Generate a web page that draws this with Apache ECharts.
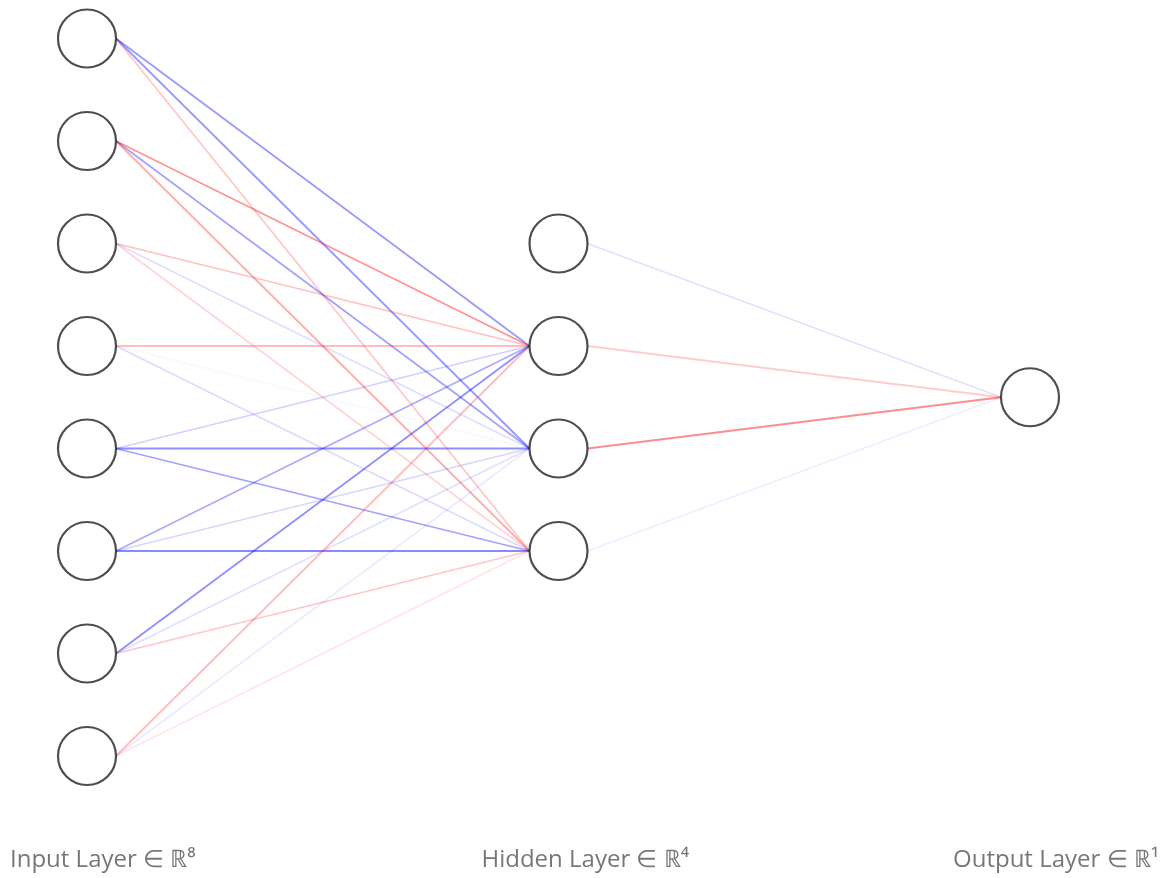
<!DOCTYPE html>
<html>
<head>
<meta charset="utf-8">
<script src="https://cdn.jsdelivr.net/npm/echarts@6/dist/echarts.min.js"></script>
<style>html,body{margin:0;padding:0;background:#fff}#c{width:1172px;height:878px}</style>
</head>
<body>
<div id="c"></div>
<script>
// ---- data ----
const layerSizes = [8, 4, 1];
const layerNames = ['Input Layer', 'Hidden Layer', 'Output Layer'];
const layerDims = ['⁸', '⁴', '¹'];
// weights input(row) -> hidden(col); positive = red, negative = blue, magnitude = opacity
const weightsInputHidden = [
  [0, -0.40, -0.40,  0.22],
  [0,  0.42, -0.36,  0.32],
  [0,  0.24, -0.13,  0.16],
  [0,  0.26, -0.03, -0.14],
  [0, -0.18, -0.44, -0.36],
  [0, -0.33, -0.16, -0.46],
  [0, -0.44, -0.12,  0.22],
  [0,  0.26, -0.08,  0.10]
];
const weightsHiddenOutput = [-0.12, 0.20, 0.45, -0.07];

// ---- build ----
const R = 29;
function ypos(n, i) { return i - (n - 1) / 2; }
const nodes = [];
layerSizes.forEach((n, l) => { for (let i = 0; i < n; i++) nodes.push([l, ypos(n, i)]); });
const edges = [];
weightsInputHidden.forEach((row, i) => row.forEach((w, j) => {
  if (w !== 0) edges.push([0, ypos(layerSizes[0], i), 1, ypos(layerSizes[1], j), w]);
}));
weightsHiddenOutput.forEach((w, j) => {
  if (w !== 0) edges.push([1, ypos(layerSizes[1], j), 2, ypos(layerSizes[2], 0), w]);
});
const labelPts = layerNames.map((name, l) => [l, 3.5, name + ' ∈ ℝ' + layerDims[l]]);

const chart = echarts.init(document.getElementById('c'));
chart.setOption({
  animation: false,
  grid: { left: 87, right: 142, top: 38.5, bottom: 122, containLabel: false },
  xAxis: { type: 'value', min: 0, max: 2, show: false },
  yAxis: { type: 'value', min: -3.5, max: 3.5, inverse: true, show: false },
  series: [
    {
      type: 'custom',
      coordinateSystem: 'cartesian2d',
      encode: { x: [0, 2], y: [1, 3] },
      data: edges,
      z: 1,
      renderItem: function (params, api) {
        const p1 = api.coord([api.value(0), api.value(1)]);
        const p2 = api.coord([api.value(2), api.value(3)]);
        const w = api.value(4);
        const a = Math.abs(w);
        const col = w > 0 ? 'rgba(255,0,0,' + a + ')' : 'rgba(0,0,255,' + a + ')';
        return {
          type: 'line',
          shape: { x1: p1[0] + R, y1: p1[1], x2: p2[0] - R, y2: p2[1] },
          style: { stroke: col, lineWidth: 1.8, fill: null }
        };
      }
    },
    {
      type: 'scatter',
      data: nodes,
      symbol: 'circle',
      symbolSize: 2 * R,
      z: 2,
      itemStyle: { color: '#fff', borderColor: '#222', borderWidth: 2.2 },
      silent: true
    },
    {
      type: 'scatter',
      data: labelPts,
      symbolSize: 0,
      z: 3,
      label: {
        show: true,
        position: 'inside',
        formatter: p => p.data[2],
        align: 'left',
        verticalAlign: 'middle',
        offset: [-77, 104],
        fontFamily: 'Open Sans',
        fontSize: 24,
        color: '#555'
      },
      silent: true
    }
  ]
});
</script>
</body>
</html>
